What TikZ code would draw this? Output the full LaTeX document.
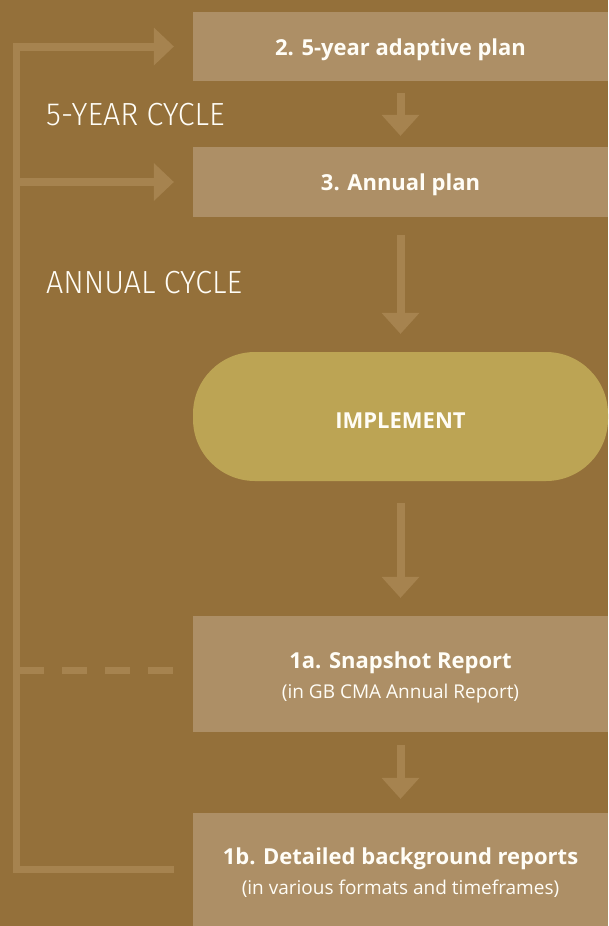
\documentclass[tikz,border=0pt]{standalone}
\usepackage{fontspec}
\setmainfont{Open Sans}
\newfontfamily\cycfont[FakeStretch=0.95]{Fira Sans Light}
\usetikzlibrary{arrows.meta,calc}
\definecolor{bg}{HTML}{94703A}
\definecolor{boxc}{HTML}{AD8F66}
\definecolor{linec}{HTML}{A6834F}
\definecolor{implc}{HTML}{BCA454}
\definecolor{txt}{HTML}{FFFDF6}
\newcommand\subfs{\fontsize{19}{27}\selectfont}
\newcommand\dn[2][3pt]{\raisebox{-#1}[\height][\depth]{#2}}
\tikzset{
  stepbox/.style={rectangle, fill=boxc, minimum width=415pt, inner sep=0pt, text=txt, align=center,
    font=\fontsize{22}{27}\selectfont},
  flow/.style={draw=linec, line width=8pt, -{Triangle[width=38pt,length=21pt,line width=0pt]}},
  fb/.style={draw=linec, line width=7pt, line join=miter},
  fbarrow/.style={draw=linec, line width=8pt, shorten >=19pt, -{Triangle[width=38pt,length=20pt,line width=0pt]}},
  cyc/.style={text=txt, inner sep=0pt, font=\cycfont\fontsize{32}{36}\selectfont}
}
\begin{document}
\begin{tikzpicture}[x=1pt,y=-1pt]
\fill[bg] (0,0) rectangle (608,926);
\useasboundingbox (0,0) rectangle (608,926);
\node[stepbox, minimum height=69pt] (b2) at (400.5,46.5) {\dn{\textbf{2. 5-year adaptive plan}}};
\node[stepbox, minimum height=70pt] (b3) at (400.5,182) {\dn{\textbf{3. Annual plan}}};
\node[stepbox, fill=implc, minimum height=129pt, rounded corners=62pt] (impl) at (400.5,416.5) {\dn[4pt]{\textbf{IMPLEMENT}}};
\node[stepbox, minimum height=116pt] (b1a) at (400.5,674) {\rule{0pt}{23pt}\textbf{1a. Snapshot Report}\\[3pt]{\subfs(in GB CMA Annual Report)}};
\node[stepbox, minimum height=113pt] (b1b) at (400.5,869.5) {\rule{0pt}{23pt}\textbf{1b. Detailed background reports}\\[3pt]{\subfs(in various formats and timeframes)}};
\node[cyc, anchor=base west] (l5) at (46,125) {5-YEAR CYCLE};
\node[cyc, anchor=base west] (la) at (46,293) {ANNUAL CYCLE};
\draw[flow, shorten <=12pt, shorten >=11pt] (b2) -- (b3);
\draw[flow, shorten <=18pt, shorten >=18pt] (b3) -- (impl);
\draw[flow, shorten <=22pt, shorten >=18pt] (impl) -- (b1a);
\draw[flow, shorten <=13pt, shorten >=14pt] (b1a) -- (b1b);
\coordinate (top) at (16,46.5);
\coordinate (mid) at (16,182);
\coordinate (dstart) at (19,670);
\draw[fb] ([xshift=-19pt]b1b.west) -| (top);
\draw[fbarrow] ([xshift=-3.5pt]top) -- (b2.west);
\draw[fbarrow] (mid) -- (b3.west);
\draw[fb, dash pattern=on 25pt off 18pt] (dstart) -- ([xshift=-19pt,yshift=4pt]b1a.west);
\end{tikzpicture}
\end{document}
